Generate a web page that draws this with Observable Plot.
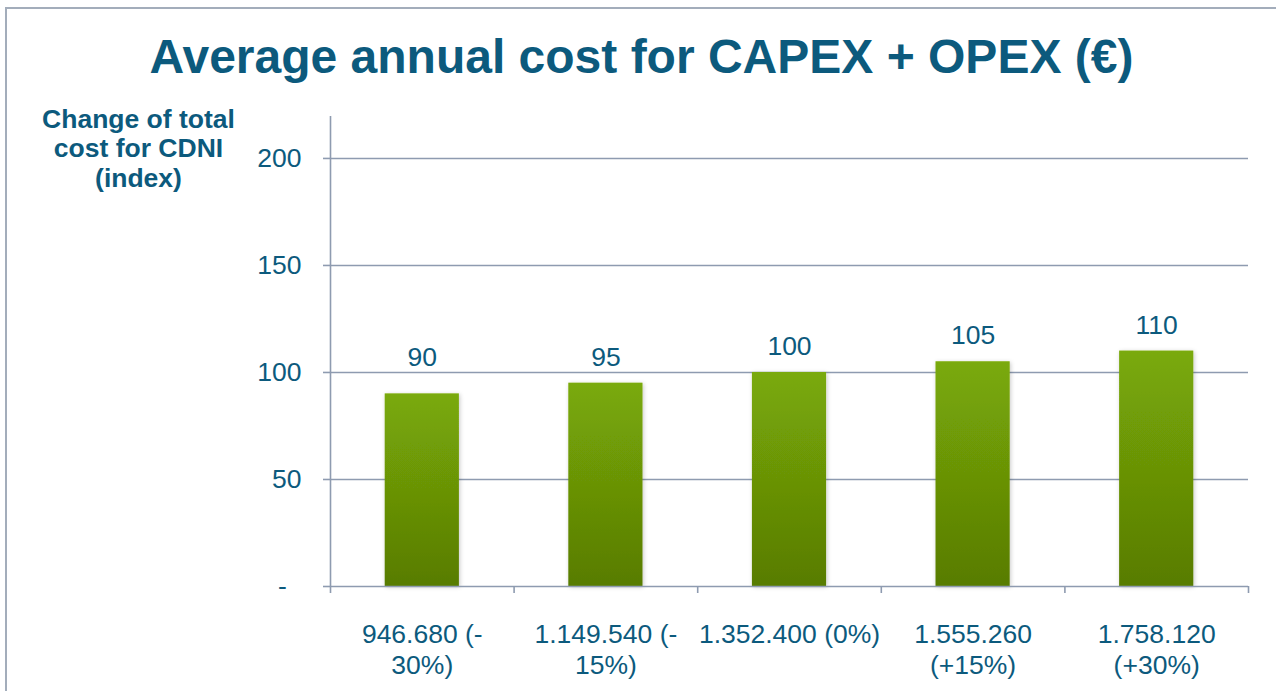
<!DOCTYPE html>
<html>
<head>
<meta charset="utf-8">
<script src="https://cdn.jsdelivr.net/npm/d3@7"></script>
<script src="https://cdn.jsdelivr.net/npm/@observablehq/plot@0.6"></script>
<style>
  html, body { margin: 0; padding: 0; background: #fff; overflow: hidden; }
  #wrap { position: relative; width: 1276px; height: 691px; font-family: "Liberation Sans", Arial, sans-serif; }
  #border { position: absolute; left: 5px; top: 7px; width: 1300px; height: 700px; border: 2px solid #a3adbb; box-sizing: border-box; }
  #title { position: absolute; left: 0; width: 1283px; top: 29px; text-align: center; font-weight: bold; font-size: 48px; color: #0c5a7d; white-space: nowrap; }
  #ylabel { position: absolute; left: 18px; width: 241px; top: 105px; text-align: center; font-weight: bold; font-size: 26.5px; line-height: 29.3px; color: #0c5a7d; white-space: nowrap; }
  #chart { position: absolute; left: 0; top: 0; }
</style>
</head>
<body>
<div id="wrap">
  <div id="border"></div>
  <div id="chart"></div>
  <div id="title">Average annual cost for CAPEX + OPEX (€)</div>
  <div id="ylabel">Change of total<br>cost for CDNI<br>(index)</div>
</div>
<script>
const categories = ["946.680 (-\n30%)", "1.149.540 (-\n15%)", "1.352.400 (0%)", "1.555.260\n(+15%)", "1.758.120\n(+30%)"];
const values = [90, 95, 100, 105, 110];
const yTicks = [0, 50, 100, 150, 200];

const data = categories.map((c, i) => ({ i, category: c, value: values[i] }));

const textColor = "#0c5a7d";
const gridColor = "#8e9bb0";
const fs = 26.5;

const chart = Plot.plot({
  width: 1276,
  height: 691,
  marginLeft: 330,
  marginRight: 28,
  marginTop: 116,
  marginBottom: 105,
  style: { fontFamily: "'Liberation Sans', Arial, sans-serif", background: "transparent", overflow: "visible" },
  x: { type: "linear", domain: [0, categories.length], axis: null },
  y: { domain: [0, 219.6], axis: null },
  marks: [
    Plot.ruleY(yTicks.filter(d => d > 0), { stroke: gridColor, strokeWidth: 1.6 }),
    Plot.rectY(data, {
      x1: d => d.i + 0.298,
      x2: d => d.i + 0.702,
      y1: 0,
      y2: "value",
      fill: "url(#barGrad)"
    }),
    Plot.ruleY([0], { stroke: gridColor, strokeWidth: 1.6 }),
    Plot.ruleX([0], { stroke: gridColor, strokeWidth: 1.6 }),
    Plot.axisY({
      ticks: yTicks,
      tickSize: 7,
      tickPadding: 22,
      tickFormat: d => d === 0 ? "-\u2007" : String(d),
      stroke: gridColor,
      strokeWidth: 1.6,
      strokeOpacity: 1,
      fill: textColor,
      fontSize: fs,
      label: null
    }),
    Plot.axisX({
      ticks: d3.range(categories.length + 1),
      tickSize: 7,
      tickFormat: () => "",
      stroke: gridColor,
      strokeWidth: 1.6,
      strokeOpacity: 1,
      label: null
    }),
    // value labels; the lowest label is lifted to the level of its neighbour (as in the original) to clear the gridline
    Plot.text(data, {
      x: d => d.i + 0.5,
      y: d => Math.max(d.value, values[1]),
      text: d => String(d.value),
      dy: -26,
      lineAnchor: "middle",
      fill: textColor,
      fontSize: fs
    }),
    Plot.text(data, {
      x: d => d.i + 0.5,
      frameAnchor: "bottom",
      text: "category",
      dy: 34,
      lineAnchor: "top",
      lineHeight: 1.17,
      fill: textColor,
      fontSize: fs
    })
  ]
});

const svg = d3.select(chart);
const defs = svg.insert("defs", ":first-child");
const grad = defs.append("linearGradient").attr("id", "barGrad").attr("x1", 0).attr("y1", 0).attr("x2", 0).attr("y2", 1);
grad.append("stop").attr("offset", "0%").attr("stop-color", "#7aaa08");
grad.append("stop").attr("offset", "100%").attr("stop-color", "#587c04");
const filt = defs.append("filter").attr("id", "barShadow").attr("x", "-20%").attr("y", "-20%").attr("width", "140%").attr("height", "140%");
filt.append("feDropShadow").attr("dx", 1).attr("dy", 1).attr("stdDeviation", 2).attr("flood-color", "#000").attr("flood-opacity", 0.22);
svg.selectAll("g[aria-label='rect'] rect").attr("filter", "url(#barShadow)");

document.getElementById("chart").appendChild(chart);
</script>
</body>
</html>
